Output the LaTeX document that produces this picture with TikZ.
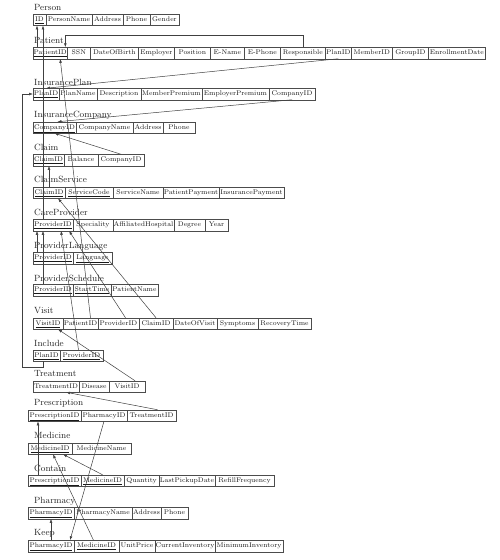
\documentclass[tikz,border=0pt]{standalone}
\usepackage{tikz}
\usetikzlibrary{positioning,arrows.meta}

\begin{document}
\begin{tikzpicture}[x=1pt,y=-1pt,
		tbl/.style={anchor=west, inner sep=1pt, font=\fontsize{9}{10}\selectfont, text=black!85},
		cell/.style={draw=black!70, line width=0.5pt, anchor=west, outer sep=0pt, inner xsep=0.5pt, inner ysep=0pt,
			minimum height=11.5pt, text height=5pt, text depth=1.5pt, font=\fontsize{6.8}{8}\selectfont, text=black!90},
		fk/.style={draw=black!75, line width=0.5pt, -{Latex[length=4pt,width=2.8pt]}}]
		
		\useasboundingbox (0,0) rectangle (500,560);
		
		% ======================================================
		% Person / Patient
		% ======================================================
		\node[tbl] (per) at (33,7.5) {Person};
		\node[cell,minimum width=13] (per-id) at (33,19.7) {\underline{ID}};
		\node[cell,minimum width=46,right=0pt of per-id] (per-name) {PersonName};
		\node[cell,minimum width=31,right=0pt of per-name] (per-addr) {Address};
		\node[cell,minimum width=27,right=0pt of per-addr] (per-phone) {Phone};
		\node[cell,minimum width=29,right=0pt of per-phone] (per-gender) {Gender};
		
		\node[tbl] (pat) at (33,40) {Patient};
		\node[cell,minimum width=32] (pat-id) at (33,53) {\underline{PatientID}};
		\node[cell,minimum width=23,right=0pt of pat-id] (pat-ssn) {SSN};
		\node[cell,minimum width=48,right=0pt of pat-ssn] (pat-dob) {DateOfBirth};
		\node[cell,minimum width=36,right=0pt of pat-dob] (pat-emp) {Employer};
		\node[cell,minimum width=36,right=0pt of pat-emp] (pat-pos) {Position};
		\node[cell,minimum width=34,right=0pt of pat-pos] (pat-ename) {E-Name};
		\node[cell,minimum width=36,right=0pt of pat-ename] (pat-ephone) {E-Phone};
		\node[cell,minimum width=45,right=0pt of pat-ephone] (pat-resp) {Responsible};
		\node[cell,minimum width=26,right=0pt of pat-resp] (pat-plan) {PlanID};
		\node[cell,minimum width=41,right=0pt of pat-plan] (pat-member) {MemberID};
		\node[cell,minimum width=36,right=0pt of pat-member] (pat-group) {GroupID};
		\node[cell,minimum width=57,right=0pt of pat-group] (pat-enroll) {EnrollmentDate};
		
		% ======================================================
		% Insurance
		% ======================================================
		\node[tbl] (ip) at (33,82) {InsurancePlan};
		\node[cell,minimum width=26] (ip-id) at (33,94) {\underline{PlanID}};
		\node[cell,minimum width=38,right=0pt of ip-id] (ip-name) {PlanName};
		\node[cell,minimum width=44,right=0pt of ip-name] (ip-desc) {Description};
		\node[cell,minimum width=61,right=0pt of ip-desc] (ip-member) {MemberPremium};
		\node[cell,minimum width=67,right=0pt of ip-member] (ip-employer) {EmployerPremium};
		\node[cell,minimum width=46,right=0pt of ip-employer] (ip-comp) {CompanyID};
		
		\node[tbl] (ic) at (33,115) {InsuranceCompany};
		\node[cell,minimum width=43] (ic-id) at (33,127.5) {\underline{CompanyID}};
		\node[cell,minimum width=57,right=0pt of ic-id] (ic-name) {CompanyName};
		\node[cell,minimum width=30,right=0pt of ic-name] (ic-addr) {Address};
		\node[cell,minimum width=32,right=0pt of ic-addr] (ic-phone) {Phone};
		
		\node[tbl] (cl) at (33,147) {Claim};
		\node[cell,minimum width=31] (cl-id) at (33,160) {\underline{ClaimID}};
		\node[cell,minimum width=34,right=0pt of cl-id] (cl-bal) {Balance};
		\node[cell,minimum width=46,right=0pt of cl-bal] (cl-comp) {CompanyID};
		
		\node[tbl] (cs) at (33,179.5) {ClaimService};
		\node[cell,minimum width=32] (cs-id) at (33,192.5) {\underline{ClaimID}};
		\node[cell,minimum width=48,right=0pt of cs-id] (cs-code) {\underline{ServiceCode}};
		\node[cell,minimum width=50,right=0pt of cs-code] (cs-name) {ServiceName};
		\node[cell,minimum width=56,right=0pt of cs-name] (cs-ppay) {PatientPayment};
		\node[cell,minimum width=65,right=0pt of cs-ppay] (cs-ipay) {InsurancePayment};
		
		% ======================================================
		% Care providers
		% ======================================================
		\node[tbl] (cp) at (33,212) {CareProvider};
		\node[cell,minimum width=40] (cp-id) at (33,225) {\underline{ProviderID}};
		\node[cell,minimum width=40,right=0pt of cp-id] (cp-spec) {Speciality};
		\node[cell,minimum width=61,right=0pt of cp-spec] (cp-hosp) {AffiliatedHospital};
		\node[cell,minimum width=31,right=0pt of cp-hosp] (cp-degree) {Degree};
		\node[cell,minimum width=23,right=0pt of cp-degree] (cp-year) {Year};
		
		\node[tbl] (pl) at (33,246) {ProviderLanguage};
		\node[cell,minimum width=40] (pl-id) at (33,258) {\underline{ProviderID}};
		\node[cell,minimum width=39,right=0pt of pl-id] (pl-lang) {\underline{Language}};
		
		\node[tbl] (ps) at (33,278) {ProviderSchedule};
		\node[cell,minimum width=40] (ps-id) at (33,290) {\underline{ProviderID}};
		\node[cell,minimum width=38,right=0pt of ps-id] (ps-start) {\underline{StartTime}};
		\node[cell,minimum width=47,right=0pt of ps-start] (ps-pat) {PatientName};
		
		% ======================================================
		% Visits and treatment
		% ======================================================
		\node[tbl] (vi) at (33,311) {Visit};
		\node[cell,minimum width=30] (vi-id) at (33,323.5) {\underline{VisitID}};
		\node[cell,minimum width=35,right=0pt of vi-id] (vi-pat) {PatientID};
		\node[cell,minimum width=41,right=0pt of vi-pat] (vi-prov) {ProviderID};
		\node[cell,minimum width=34,right=0pt of vi-prov] (vi-claim) {ClaimID};
		\node[cell,minimum width=44,right=0pt of vi-claim] (vi-date) {DateOfVisit};
		\node[cell,minimum width=41,right=0pt of vi-date] (vi-sympt) {Symptoms};
		\node[cell,minimum width=53,right=0pt of vi-sympt] (vi-recov) {RecoveryTime};
		
		\node[tbl] (inc) at (33,343) {Include};
		\node[cell,minimum width=27] (inc-plan) at (33,355.5) {\underline{PlanID}};
		\node[cell,minimum width=43,right=0pt of inc-plan] (inc-prov) {\underline{ProviderID}};
		
		\node[tbl] (tr) at (33,373) {Treatment};
		\node[cell,minimum width=46] (tr-id) at (33,386.5) {TreatmentID};
		\node[cell,minimum width=30,right=0pt of tr-id] (tr-dis) {Disease};
		\node[cell,minimum width=36,right=0pt of tr-dis] (tr-visit) {VisitID};
		
		% ======================================================
		% Prescriptions and pharmacies
		% ======================================================
		\node[tbl] (pr) at (33,403) {Prescription};
		\node[cell,minimum width=53] (pr-id) at (28,415.5) {\underline{PrescriptionID}};
		\node[cell,minimum width=46,right=0pt of pr-id] (pr-pharm) {PharmacyID};
		\node[cell,minimum width=49,right=0pt of pr-pharm] (pr-treat) {TreatmentID};
		
		\node[tbl] (md) at (33,435) {Medicine};
		\node[cell,minimum width=44] (md-id) at (28,448.5) {\underline{MedicineID}};
		\node[cell,minimum width=59,right=0pt of md-id] (md-name) {MedicineName};
		
		\node[tbl] (ct) at (33,468) {Contain};
		\node[cell,minimum width=53] (ct-presc) at (28,480.5) {\underline{PrescriptionID}};
		\node[cell,minimum width=43,right=0pt of ct-presc] (ct-med) {\underline{MedicineID}};
		\node[cell,minimum width=35,right=0pt of ct-med] (ct-qty) {Quantity};
		\node[cell,minimum width=56,right=0pt of ct-qty] (ct-pick) {LastPickupDate};
		\node[cell,minimum width=59,right=0pt of ct-pick] (ct-refill) {RefillFrequency};
		
		\node[tbl] (ph) at (33,501) {Pharmacy};
		\node[cell,minimum width=46] (ph-id) at (28,513) {\underline{PharmacyID}};
		\node[cell,minimum width=58,right=0pt of ph-id] (ph-name) {PharmacyName};
		\node[cell,minimum width=29,right=0pt of ph-name] (ph-addr) {Address};
		\node[cell,minimum width=27,right=0pt of ph-addr] (ph-phone) {Phone};
		
		\node[tbl] (kp) at (33,533) {Keep};
		\node[cell,minimum width=46] (kp-ph) at (28,546) {\underline{PharmacyID}};
		\node[cell,minimum width=45,right=0pt of kp-ph] (kp-med) {\underline{MedicineID}};
		\node[cell,minimum width=36,right=0pt of kp-med] (kp-price) {UnitPrice};
		\node[cell,minimum width=60,right=0pt of kp-price] (kp-cur) {CurrentInventory};
		\node[cell,minimum width=68,right=0pt of kp-cur] (kp-min) {MinimumInventory};
		
		% ======================================================
		% foreign keys
		% ======================================================
		\draw[fk] ([xshift=4pt]pat-id.north west) -- ([xshift=4pt]per-id.south west);
		\draw[fk] ([xshift=10pt]cp-id.north west) -- ([xshift=10pt]per-id.south west);
		\draw[fk] (pat-resp.north) -- ++(0,-12) -| ([xshift=-2pt]pat-id.north east);
		\draw[fk] (pat-plan.south) -- (ip-id.north);
		\draw[fk] (ip-comp.south) -- ([xshift=3pt]ic-id.north);
		\draw[fk] (cl-comp.north) -- (ic-id.south);
		\draw[fk] (cs-id.north) -- (cs-id.north |- cl-id.south);
		\draw[fk] (vi-claim.north) -- ([xshift=9pt]cs-id.south);
		
		% providers
		\draw[fk] ([xshift=4pt]pl-id.north west) -- ([xshift=4pt]cp-id.south west);
		\draw[fk] ([xshift=10pt]ps-id.north west) -- ([xshift=10pt]cp-id.south west);
		\draw[fk] ([xshift=-3pt]inc-prov.north) -- ([xshift=8pt]cp-id.south);
		\draw[fk] ([xshift=7pt]vi-prov.north) -- ([xshift=-4pt]cp-id.south east);
		\draw[fk] ([xshift=10pt]vi-pat.north) -- ([xshift=10pt]pat-id.south);
		
		% plan loop on the left
		\coordinate (plan-loop) at (22,367);
		\draw[fk] ([xshift=10pt]inc-plan.south west) |- (plan-loop) |- (ip-id.west);
		
		% treatment, prescription, medicine
		\draw[fk] ([xshift=8pt]tr-visit.north) -- ([xshift=10pt]vi-id.south);
		\draw[fk] ([xshift=6pt]pr-treat.north) -- ([xshift=10pt]tr-id.south);
		\draw[fk] (pr-pharm.south) -- ([xshift=19pt]kp-ph.north);
		\draw[fk] ([xshift=10pt]ct-presc.north west) -- ([xshift=10pt]pr-id.south west);
		\draw[fk] (ct-med.north) -- ([xshift=13pt]md-id.south);
		\draw[fk] ([xshift=-3pt]kp-med.north) -- ([xshift=3pt]md-id.south);
		\draw[fk] (kp-ph.north) -- (ph-id.south);
		
	\end{tikzpicture}
\end{document}
